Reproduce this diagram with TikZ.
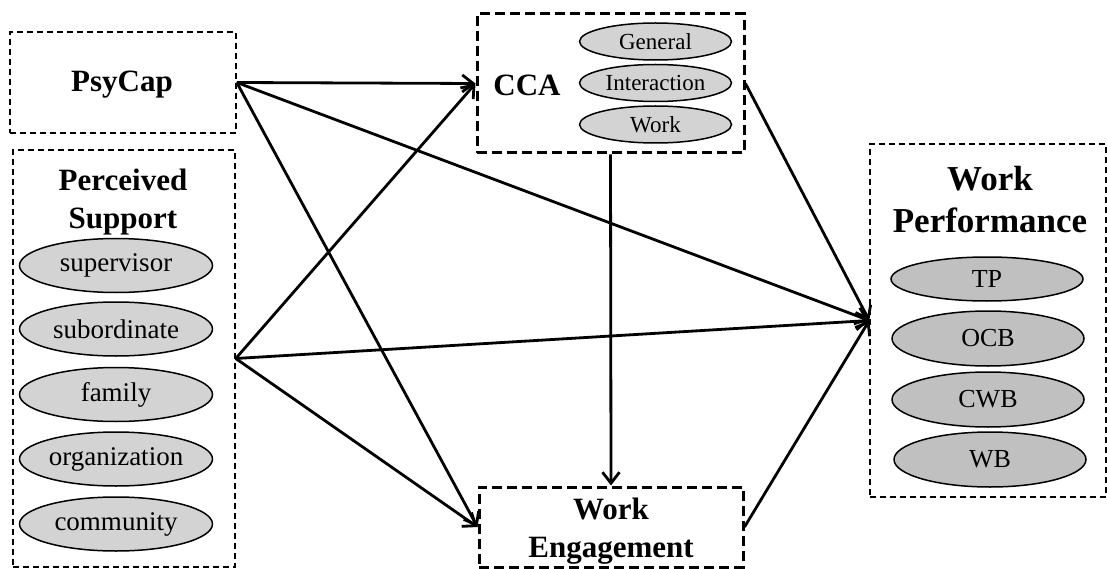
\documentclass[tikz,border=0pt]{standalone}
\usepackage{fontspec}
\setmainfont{Liberation Serif}
\usetikzlibrary{arrows.meta,shapes.geometric}
\definecolor{lgray}{RGB}{211,211,211}
\definecolor{dgray}{RGB}{192,192,192}
\begin{document}
\begin{tikzpicture}[x=1pt,y=-1pt,
  thinbox/.style={draw,line width=1.5pt,dash pattern=on 6pt off 4pt,inner sep=0pt},
  thickbox/.style={draw,line width=3pt,dash pattern=on 10pt off 5pt,inner sep=0pt},
  title/.style={font=\bfseries\fontsize{31}{38}\selectfont,align=center,inner sep=0pt},
  bigtitle/.style={font=\bfseries\fontsize{35}{42}\selectfont,align=center,inner sep=0pt},
  lell/.style={ellipse,draw,line width=1.5pt,fill=lgray,inner sep=0pt,
    minimum width=193pt,minimum height=54pt,font=\fontsize{27}{30}\selectfont},
  cell/.style={ellipse,draw,line width=1.5pt,fill=lgray,inner sep=0pt,
    minimum width=152pt,minimum height=37pt,font=\fontsize{23}{26}\selectfont},
  rell/.style={ellipse,draw,line width=1.5pt,fill=dgray,inner sep=0pt,
    minimum width=192pt,minimum height=55pt,font=\fontsize{26}{29}\selectfont},
  arr/.style={line width=2.8pt,-{Straight Barb[length=11pt,width=17pt]}}
]
\useasboundingbox (0,0) rectangle (1107,569);

% boxes
\node[thinbox,minimum width=226pt,minimum height=101pt] (psycap) at (123,82.5) {};
\node[thinbox,minimum width=222pt,minimum height=417pt] (ps) at (124,358.5) {};
\node[thickbox,minimum width=267pt,minimum height=139pt] (cca) at (610.5,83.5) {};
\node[thickbox,minimum width=264pt,minimum height=80pt] (we) at (611,527) {};
\node[thinbox,minimum width=236pt,minimum height=353pt] (wp) at (988,320.5) {};

% titles
\node[title] (tpsy) at (122,85) {PsyCap};
\node[title] (tps) at (123,202) {Perceived\\Support};
\node[title] (tcca) at (527,85) {CCA};
\node[title] (twe) at (611,531) {Work\\Engagement};
\node[bigtitle] (twp) at (990,200) {Work\\Performance};

% left ellipses
\node[lell] (sup) at (116,265.5) {supervisor};
\node[lell] (sub) at (116,329) {subordinate};
\node[lell] (fam) at (116,394.5) {family};
\node[lell] (org) at (116,459) {organization};
\node[lell] (com) at (116,524) {community};

% CCA ellipses
\node[cell] (gen) at (655.5,41.5) {General};
\node[cell] (int) at (655.5,83) {Interaction};
\node[cell] (wrk) at (655.5,124.5) {Work};

% WP ellipses
\node[rell,minimum height=44pt] (tp) at (987,279) {TP};
\node[rell] (ocb) at (988,338.5) {OCB};
\node[rell] (cwb) at (988,399.5) {CWB};
\node[rell] (wb) at (990,459.5) {WB};

% arrows
\draw[arr] (psycap.east) -- (cca.west);
\draw[arr] (psycap.east) -- (wp.west);
\draw[arr] (psycap.east) -- (we.west);
\draw[arr] (ps.east) -- (cca.west);
\draw[arr] (ps.east) -- (wp.west);
\draw[arr] (ps.east) -- (we.west);
\draw[arr] (cca.south) -- (we.north);
\draw[arr] (cca.east) -- (wp.west);
\draw[arr] (we.east) -- (wp.west);
\end{tikzpicture}
\end{document}
